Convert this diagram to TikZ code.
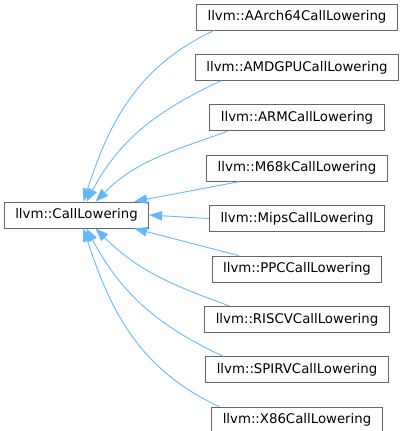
\documentclass[tikz,border=0pt]{standalone}
\usepackage{fontspec}
\setmainfont{DejaVu Sans}
\usetikzlibrary{arrows.meta,positioning}
\definecolor{edgeblue}{HTML}{63B8FF}
\definecolor{boxgray}{HTML}{666666}

\begin{document}
\begin{tikzpicture}[
  x=1pt, y=1pt, node distance=23.5pt,
  cls/.style={draw=boxgray, line width=0.9pt, fill=white, minimum height=26pt,
              inner xsep=11pt, inner ysep=0pt, font=\fontsize{13.3}{16}\selectfont},
  inh/.style={draw=edgeblue, line width=0.9pt, -{Triangle[length=13pt,width=9.5pt]}}]
\useasboundingbox (0,0) rectangle (404,431);
\node[cls] (base) at (76.5,216) {llvm::CallLowering};
\node[cls] (aarch) at (297,414) {llvm::AArch64CallLowering};
\node[cls, below=of aarch] (amdgpu) {llvm::AMDGPUCallLowering};
\node[cls, below=of amdgpu] (arm) {llvm::ARMCallLowering};
\node[cls, below=of arm] (m68k) {llvm::M68kCallLowering};
\node[cls, below=of m68k] (mips) {llvm::MipsCallLowering};
\node[cls, below=of mips] (ppc) {llvm::PPCCallLowering};
\node[cls, below=of ppc] (riscv) {llvm::RISCVCallLowering};
\node[cls, below=of riscv] (spirv) {llvm::SPIRVCallLowering};
\node[cls, below=of spirv] (x86) {llvm::X86CallLowering};
% edges to the base class
\draw[inh] ([xshift=18pt]aarch.south west) to[out=205,in=72] ([xshift=7pt]base.north);
\draw[inh] ([xshift=26pt]amdgpu.south west) to[out=205,in=62] ([xshift=10pt]base.north);
\draw[inh] ([xshift=18pt]arm.south west) to[out=200,in=45] ([xshift=19pt]base.north);
\draw[inh] ([xshift=33pt]m68k.south west) -- ([xshift=-15pt]base.north east);
\draw[inh] (mips.west) -- (base.east);
\draw[inh] ([xshift=27pt]ppc.north west) -- ([xshift=-15pt]base.south east);
\draw[inh] ([xshift=25pt]riscv.north west) to[out=160,in=-45] ([xshift=19pt]base.south);
\draw[inh] ([xshift=18pt]spirv.north west) to[out=155,in=-62] ([xshift=10pt]base.south);
\draw[inh] ([xshift=8pt]x86.north west) to[out=155,in=-72] ([xshift=7pt]base.south);
\end{tikzpicture}
\end{document}
